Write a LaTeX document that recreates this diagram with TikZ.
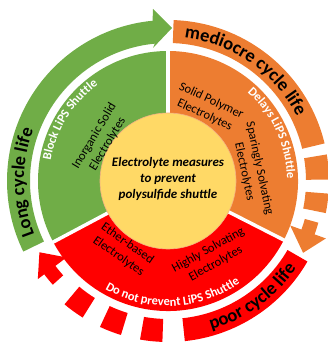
\documentclass[tikz,border=0pt]{standalone}
\usepackage{fontspec}
\setmainfont{Carlito}
\usetikzlibrary{decorations.text}
\definecolor{leafgreen}{HTML}{70AD47}
\definecolor{rust}{HTML}{ED7D31}
\definecolor{alarm}{HTML}{FF0000}
\definecolor{sun}{HTML}{FFD966}
\definecolor{sunrim}{HTML}{F4B183}
\newcommand{\ringpart}[3]{\fill[#1] (#2:138) arc[start angle=#2,end angle=#3,radius=138] -- (#3:161) arc[start angle=#3,end angle=#2,radius=161] -- cycle;}
\newcommand{\bandfont}{\bfseries\fontsize{18.5}{21}\selectfont}
\newcommand{\rimfont}{\color{white}\bfseries\fontsize{12.5}{14}\selectfont}

\begin{document}
\begin{tikzpicture}[x=1pt,y=1pt,
  sectortext/.style={align=center,font=\fontsize{12.5}{15.5}\selectfont},
  curvetext/.style={decorate,decoration={text along path,text align=center,text={#1}}}]
  \useasboundingbox (-168,-161) rectangle (159,181);
  \fill[leafgreen] (0,0) -- (90:130) arc[start angle=90,end angle=208,radius=130] -- cycle;
  \fill[alarm] (0,0) -- (208:130) arc[start angle=208,end angle=333,radius=130] -- cycle;
  \fill[rust] (0,0) -- (-27:130) arc[start angle=-27,end angle=90,radius=130] -- cycle;
  \foreach \a in {90,208,-27} \draw[white,line width=3.5pt] (0,0) -- (\a:132);
  \node[circle,fill=sun,draw=sunrim,line width=0.6pt,minimum size=136pt,inner sep=0pt] (core) at (0,0) {};
  \node[font=\bfseries\itshape\fontsize{13}{16}\selectfont,align=center] (goal) at (0,2) {Electrolyte measures\\to prevent\\polysulfide shuttle};
  \node[sectortext,rotate=59] (inorganic) at (-67,41) {Inorganic Solid\\Electrolytes};
  \node[sectortext,rotate=-25] (polymer) at (40,73) {Solid Polymer\\Electrolytes};
  \node[sectortext,rotate=-78] (sparing) at (84,11) {Sparingly Solvating\\Electrolytes};
  \node[sectortext,rotate=-35] (ether) at (-45,-69) {Ether-based\\Electrolytes};
  \node[sectortext,rotate=29] (highsolv) at (44,-76) {Highly Solvating\\Electrolytes};
  \fill[leafgreen] (206:138) arc[start angle=206,end angle=95.5,radius=138] -- (-15,133) -- (4,153) -- (-15,172) -- (95.5:161) arc[start angle=95.5,end angle=206,radius=161] -- cycle;
  \ringpart{rust}{88}{13.5}
  \foreach \a/\b in {9.5/0.5,-4.5/-11.5} {\ringpart{rust}{\a}{\b}}
  \fill[rust] (-15.5:142) arc[start angle=-15.5,end angle=-20,radius=142] -- (-20:130) -- (-28:153) -- (-20:168) -- (-20:156) arc[start angle=-20,end angle=-15.5,radius=156] -- cycle;
  \ringpart{alarm}{276}{330}
  \foreach \a/\b in {238/230,253/245,268/260} {\ringpart{alarm}{\a}{\b}}
  \fill[alarm] (222:141) arc[start angle=222,end angle=217,radius=141] -- (217:127) -- (209:147) -- (217:163) -- (217:155) arc[start angle=217,end angle=222,radius=155] -- cycle;
  \path[curvetext={|\bandfont|Long cycle life}] (205:144) arc[start angle=205,end angle=156,radius=144];
  \path[curvetext={|\bandfont|mediocre cycle life}] (88:144) arc[start angle=88,end angle=22,radius=144];
  \path[curvetext={|\bandfont|poor cycle life}] (-82:155) arc[start angle=-82,end angle=-26,radius=155];
  \path[curvetext={|\rimfont|Block LiPS Shuttle}] (178:119) arc[start angle=178,end angle=118,radius=119];
  \path[curvetext={|\rimfont|Delays LiPS Shuttle}] (55:119) arc[start angle=55,end angle=-6,radius=119];
  \path[curvetext={|\rimfont|Do not prevent LiPS Shuttle}] (230:125) arc[start angle=230,end angle=315,radius=125];
\end{tikzpicture}
\end{document}
